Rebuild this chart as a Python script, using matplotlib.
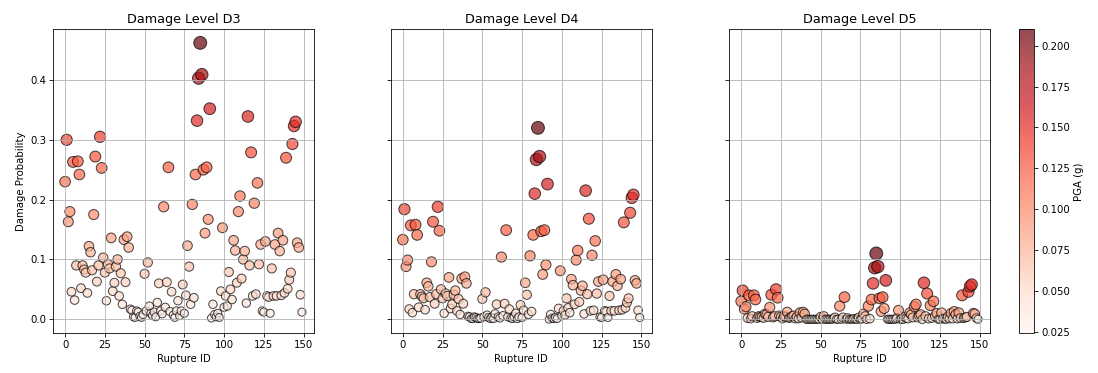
import numpy as np
import matplotlib
matplotlib.use("Agg")
import matplotlib.pyplot as plt

# rupture scenarios, ground motion and damage state probabilities
rupture_id = list(range(150))

pga = [
    0.114, 0.138, 0.094, 0.099, 0.051, 0.125, 0.044, 0.068, 0.125, 0.117,
    0.053, 0.068, 0.066, 0.064, 0.050, 0.080, 0.076, 0.065, 0.097, 0.128,
    0.058, 0.068, 0.140, 0.121, 0.073, 0.064, 0.043, 0.069, 0.066, 0.085,
    0.051, 0.057, 0.067, 0.072, 0.048, 0.064, 0.041, 0.084, 0.058, 0.086,
    0.079, 0.036, 0.035, 0.027, 0.027, 0.034, 0.033, 0.028, 0.027, 0.031,
    0.063, 0.034, 0.070, 0.039, 0.032, 0.029, 0.033, 0.027, 0.042, 0.057,
    0.034, 0.031, 0.101, 0.038, 0.058, 0.122, 0.034, 0.051, 0.030, 0.027,
    0.034, 0.043, 0.029, 0.034, 0.056, 0.032, 0.048, 0.080, 0.067, 0.041,
    0.103, 0.046, 0.117, 0.151, 0.181, 0.210, 0.185, 0.120, 0.088, 0.122,
    0.095, 0.159, 0.024, 0.041, 0.031, 0.027, 0.032, 0.027, 0.051, 0.091,
    0.038, 0.048, 0.039, 0.065, 0.052, 0.044, 0.083, 0.077, 0.057, 0.099,
    0.108, 0.060, 0.072, 0.077, 0.042, 0.154, 0.068, 0.131, 0.048, 0.103,
    0.049, 0.113, 0.069, 0.081, 0.034, 0.033, 0.083, 0.048, 0.047, 0.032,
    0.066, 0.048, 0.081, 0.048, 0.088, 0.077, 0.048, 0.083, 0.050, 0.128,
    0.052, 0.059, 0.064, 0.135, 0.147, 0.150, 0.082, 0.079, 0.049, 0.033,
]

d3 = [
    0.230, 0.300, 0.163, 0.180, 0.046, 0.263, 0.032, 0.090, 0.264, 0.242,
    0.052, 0.090, 0.083, 0.078, 0.044, 0.122, 0.112, 0.082, 0.175, 0.272,
    0.063, 0.090, 0.305, 0.253, 0.103, 0.078, 0.031, 0.092, 0.085, 0.136,
    0.047, 0.061, 0.088, 0.100, 0.039, 0.077, 0.025, 0.133, 0.062, 0.138,
    0.120, 0.017, 0.015, 0.004, 0.003, 0.014, 0.012, 0.005, 0.003, 0.008,
    0.076, 0.014, 0.095, 0.022, 0.010, 0.006, 0.012, 0.004, 0.028, 0.060,
    0.014, 0.009, 0.188, 0.020, 0.062, 0.254, 0.013, 0.046, 0.007, 0.003,
    0.014, 0.031, 0.006, 0.014, 0.058, 0.010, 0.040, 0.123, 0.088, 0.025,
    0.192, 0.036, 0.242, 0.332, 0.403, 0.462, 0.409, 0.250, 0.144, 0.254,
    0.167, 0.352, 0.002, 0.025, 0.008, 0.004, 0.010, 0.003, 0.047, 0.153,
    0.020, 0.039, 0.022, 0.079, 0.050, 0.033, 0.132, 0.115, 0.061, 0.180,
    0.206, 0.068, 0.100, 0.114, 0.027, 0.339, 0.090, 0.279, 0.039, 0.194,
    0.042, 0.228, 0.092, 0.125, 0.014, 0.012, 0.130, 0.039, 0.037, 0.010,
    0.085, 0.039, 0.125, 0.039, 0.144, 0.114, 0.040, 0.132, 0.044, 0.270,
    0.051, 0.066, 0.078, 0.293, 0.323, 0.330, 0.128, 0.120, 0.041, 0.012,
]

d4 = [
    0.133, 0.184, 0.088, 0.099, 0.017, 0.157, 0.011, 0.042, 0.158, 0.141,
    0.020, 0.042, 0.038, 0.035, 0.016, 0.061, 0.055, 0.037, 0.096, 0.163,
    0.026, 0.042, 0.188, 0.148, 0.050, 0.035, 0.010, 0.043, 0.039, 0.070,
    0.018, 0.025, 0.041, 0.048, 0.014, 0.034, 0.008, 0.068, 0.026, 0.071,
    0.060, 0.005, 0.004, 0.001, 0.001, 0.004, 0.003, 0.001, 0.001, 0.002,
    0.034, 0.004, 0.045, 0.007, 0.003, 0.001, 0.003, 0.001, 0.009, 0.025,
    0.004, 0.002, 0.104, 0.006, 0.026, 0.149, 0.004, 0.017, 0.002, 0.001,
    0.004, 0.010, 0.001, 0.004, 0.024, 0.003, 0.015, 0.061, 0.041, 0.008,
    0.106, 0.013, 0.141, 0.210, 0.267, 0.320, 0.272, 0.147, 0.075, 0.149,
    0.091, 0.226, 0.000, 0.008, 0.002, 0.001, 0.003, 0.001, 0.018, 0.081,
    0.006, 0.014, 0.007, 0.035, 0.019, 0.011, 0.067, 0.057, 0.025, 0.099,
    0.115, 0.029, 0.048, 0.056, 0.009, 0.215, 0.042, 0.168, 0.014, 0.107,
    0.015, 0.131, 0.043, 0.063, 0.004, 0.003, 0.066, 0.014, 0.013, 0.003,
    0.039, 0.014, 0.063, 0.014, 0.075, 0.056, 0.015, 0.067, 0.016, 0.162,
    0.019, 0.028, 0.035, 0.178, 0.203, 0.208, 0.065, 0.060, 0.015, 0.003,
]

d5 = [
    0.030, 0.048, 0.017, 0.021, 0.002, 0.040, 0.001, 0.005, 0.040, 0.033,
    0.002, 0.005, 0.004, 0.004, 0.002, 0.009, 0.008, 0.004, 0.020, 0.041,
    0.003, 0.005, 0.050, 0.036, 0.006, 0.004, 0.001, 0.005, 0.004, 0.012,
    0.002, 0.003, 0.005, 0.006, 0.001, 0.004, 0.001, 0.011, 0.003, 0.012,
    0.009, 0.000, 0.000, 0.000, 0.000, 0.000, 0.000, 0.000, 0.000, 0.000,
    0.004, 0.000, 0.005, 0.000, 0.000, 0.000, 0.000, 0.000, 0.001, 0.003,
    0.000, 0.000, 0.022, 0.000, 0.003, 0.037, 0.000, 0.002, 0.000, 0.000,
    0.000, 0.001, 0.000, 0.000, 0.003, 0.000, 0.001, 0.009, 0.005, 0.000,
    0.022, 0.001, 0.033, 0.060, 0.086, 0.110, 0.088, 0.035, 0.013, 0.037,
    0.018, 0.065, 0.000, 0.000, 0.000, 0.000, 0.000, 0.000, 0.002, 0.015,
    0.000, 0.001, 0.000, 0.004, 0.002, 0.001, 0.011, 0.008, 0.003, 0.021,
    0.025, 0.003, 0.006, 0.008, 0.000, 0.061, 0.005, 0.043, 0.001, 0.023,
    0.002, 0.030, 0.005, 0.010, 0.000, 0.000, 0.011, 0.001, 0.001, 0.000,
    0.004, 0.001, 0.010, 0.001, 0.013, 0.008, 0.001, 0.011, 0.002, 0.040,
    0.002, 0.003, 0.004, 0.046, 0.055, 0.058, 0.010, 0.009, 0.002, 0.000,
]

levels = ["D3", "D4", "D5"]
probs = [d3, d4, d5]

pga_arr = np.array(pga)
# marker area grows with PGA
sizes = 45 + 550 * pga_arr

fig = plt.figure(figsize=(15, 5.096), dpi=73.2)
lefts = [0.0485, 0.3561, 0.6642]
axes = []
for i, left in enumerate(lefts):
    if i == 0:
        ax = fig.add_axes([left, 0.107, 0.2373, 0.815])
    else:
        ax = fig.add_axes([left, 0.107, 0.2373, 0.815], sharey=axes[0])
        plt.setp(ax.get_yticklabels(), visible=False)
    axes.append(ax)

for ax, lvl, p in zip(axes, levels, probs):
    sc = ax.scatter(rupture_id, p, c=pga_arr, s=sizes, cmap="Reds",
                    vmin=pga_arr.min(), vmax=pga_arr.max(),
                    alpha=0.7, edgecolors="k", linewidths=1)
    ax.set_title("Damage Level " + lvl, fontsize=12.5)
    ax.set_xlabel("Rupture ID")
    ax.grid(True)

axes[0].set_ylabel("Damage Probability")

cax = fig.add_axes([0.9283, 0.1064, 0.0137, 0.815])
fig.colorbar(sc, cax=cax, label="PGA (g)")

fig.savefig("out.png", dpi=73.2)
